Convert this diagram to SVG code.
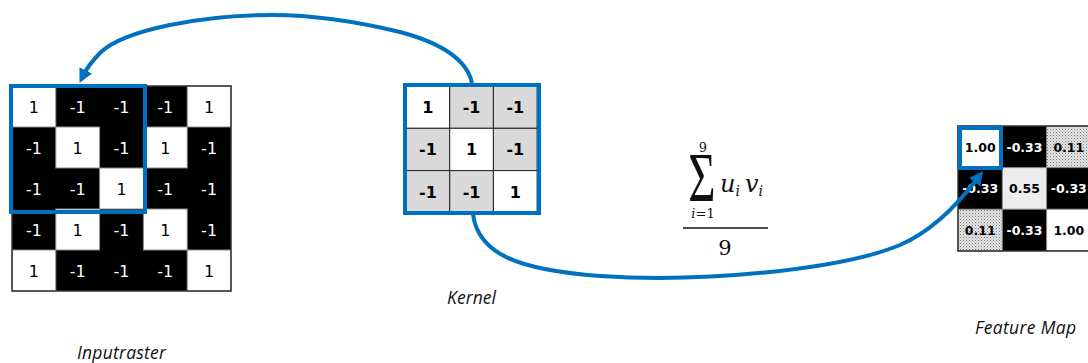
<svg xmlns="http://www.w3.org/2000/svg" width="1088" height="363" viewBox="0 0 1088 363">
  <style>
    .blk { fill: #000; }
    .wht { fill: #fff; stroke: #8c8c8c; stroke-width: 1; }
    .gry { fill: #d9d9d9; stroke: #222; stroke-width: 1; }
    .kw { fill: #fff; stroke: #222; stroke-width: 1; }
    .lgry { fill: #ececec; stroke: #888; stroke-width: 1; }
    .dot { fill: url(#dots); stroke: #888; stroke-width: 1; }
    .frame { fill: none; stroke: #333; stroke-width: 1.5; }
    .sel { fill: none; stroke: #0070c0; stroke-width: 4; }
    .num { font-family: "DejaVu Sans", sans-serif; font-size: 16px; text-anchor: middle; }
    .knum { font-family: "DejaVu Sans", sans-serif; font-size: 16px; font-weight: bold; text-anchor: middle; fill: #000; }
    .fnum { font-family: "DejaVu Sans", sans-serif; font-size: 12.5px; font-weight: bold; text-anchor: middle; }
    .on-b { fill: #fff; }
    .on-w { fill: #000; }
    .lbl { font-family: "Open Sans", sans-serif; font-style: italic; font-size: 17.5px; fill: #111; }
    .math { font-family: "DejaVu Serif", serif; fill: #111; }
    .conn { fill: none; stroke: #0070c0; stroke-width: 4; }
  </style>
  <defs>
    <pattern id="dots" width="3" height="3" patternUnits="userSpaceOnUse">
      <rect width="3" height="3" fill="#e6e6e6"/>
      <rect x="0" y="0" width="1" height="1" fill="#777"/>
      <rect x="1.5" y="1.5" width="1" height="1" fill="#999"/>
    </pattern>
    <marker id="head" markerUnits="userSpaceOnUse" markerWidth="16" markerHeight="16" refX="4" refY="7" orient="auto">
      <path d="M0,0 L14,7 L0,14 z" fill="#0070c0"/>
    </marker>
  </defs>

  <!-- Input raster 5x5 -->
  <g id="inputraster">
    <rect x="12" y="86" width="219" height="205" class="blk"/>
    <rect x="12" y="86" width="43.8" height="41" class="wht"/>
    <rect x="187.2" y="86" width="43.8" height="41" class="wht"/>
    <rect x="55.8" y="127" width="43.8" height="41" class="wht"/>
    <rect x="143.4" y="127" width="43.8" height="41" class="wht"/>
    <rect x="99.6" y="168" width="43.8" height="41" class="wht"/>
    <rect x="55.8" y="209" width="43.8" height="41" class="wht"/>
    <rect x="143.4" y="209" width="43.8" height="41" class="wht"/>
    <rect x="12" y="250" width="43.8" height="41" class="wht"/>
    <rect x="187.2" y="250" width="43.8" height="41" class="wht"/>
    <rect x="12" y="86" width="219" height="205" class="frame"/>
    <g class="num">
      <text x="33.9" y="112.5" class="on-w">1</text>
      <text x="77.7" y="112.5" class="on-b">-1</text>
      <text x="121.5" y="112.5" class="on-b">-1</text>
      <text x="165.3" y="112.5" class="on-b">-1</text>
      <text x="209.1" y="112.5" class="on-w">1</text>

      <text x="33.9" y="153.5" class="on-b">-1</text>
      <text x="77.7" y="153.5" class="on-w">1</text>
      <text x="121.5" y="153.5" class="on-b">-1</text>
      <text x="165.3" y="153.5" class="on-w">1</text>
      <text x="209.1" y="153.5" class="on-b">-1</text>

      <text x="33.9" y="194.5" class="on-b">-1</text>
      <text x="77.7" y="194.5" class="on-b">-1</text>
      <text x="121.5" y="194.5" class="on-w">1</text>
      <text x="165.3" y="194.5" class="on-b">-1</text>
      <text x="209.1" y="194.5" class="on-b">-1</text>

      <text x="33.9" y="235.5" class="on-b">-1</text>
      <text x="77.7" y="235.5" class="on-w">1</text>
      <text x="121.5" y="235.5" class="on-b">-1</text>
      <text x="165.3" y="235.5" class="on-w">1</text>
      <text x="209.1" y="235.5" class="on-b">-1</text>

      <text x="33.9" y="276.5" class="on-w">1</text>
      <text x="77.7" y="276.5" class="on-b">-1</text>
      <text x="121.5" y="276.5" class="on-b">-1</text>
      <text x="165.3" y="276.5" class="on-b">-1</text>
      <text x="209.1" y="276.5" class="on-w">1</text>
    </g>
    <rect x="11" y="86" width="134" height="126" class="sel"/>
    <text x="77" y="359" class="lbl" textLength="89">Inputraster</text>
  </g>

  <!-- Kernel 3x3 -->
  <g id="kernel">
    <rect x="406" y="86" width="43.7" height="42.3" class="kw"/>
    <rect x="449.7" y="86" width="43.7" height="42.3" class="gry"/>
    <rect x="493.4" y="86" width="43.7" height="42.3" class="gry"/>
    <rect x="406" y="128.3" width="43.7" height="42.3" class="gry"/>
    <rect x="449.7" y="128.3" width="43.7" height="42.3" class="kw"/>
    <rect x="493.4" y="128.3" width="43.7" height="42.3" class="gry"/>
    <rect x="406" y="170.6" width="43.7" height="42.3" class="gry"/>
    <rect x="449.7" y="170.6" width="43.7" height="42.3" class="gry"/>
    <rect x="493.4" y="170.6" width="43.7" height="42.3" class="kw"/>
    <g class="knum">
      <text x="427.9" y="113">1</text>
      <text x="471.6" y="113">-1</text>
      <text x="515.3" y="113">-1</text>
      <text x="427.9" y="155.3">-1</text>
      <text x="471.6" y="155.3">1</text>
      <text x="515.3" y="155.3">-1</text>
      <text x="427.9" y="197.6">-1</text>
      <text x="471.6" y="197.6">-1</text>
      <text x="515.3" y="197.6">1</text>
    </g>
    <rect x="405" y="85" width="134" height="128" class="sel"/>
    <text x="447" y="304" class="lbl" textLength="49">Kernel</text>
  </g>

  <!-- Formula: sum of u_i v_i over i = 1..9, divided by 9 -->
  <g id="formula">
    <text transform="translate(702,201) scale(0.68,1)" font-family="Liberation Serif, serif" font-size="69" fill="#111" text-anchor="middle">Σ</text>
    <text x="703" y="152" class="math" font-size="13" text-anchor="middle">9</text>
    <text x="703" y="218" class="math" font-size="13" text-anchor="middle"><tspan font-style="italic">i</tspan>=1</text>
    <text x="720" y="192" class="math" font-size="24" font-style="italic">u<tspan font-size="14" dy="4">i</tspan><tspan dy="-4" dx="5">v</tspan><tspan font-size="14" dy="4">i</tspan></text>
    <line x1="683" y1="228" x2="768" y2="228" stroke="#111" stroke-width="1.5"/>
    <text x="725" y="255" class="math" font-size="21" text-anchor="middle">9</text>
  </g>

  <!-- Feature map 3x3 -->
  <g id="featuremap">
    <rect x="958" y="126" width="140" height="125" class="blk"/>
    <rect x="958" y="126" width="44.3" height="41.6" class="wht"/>
    <rect x="1046.6" y="126" width="44.3" height="41.6" class="dot"/>
    <rect x="1002.3" y="167.6" width="44.3" height="41.6" class="lgry"/>
    <rect x="958" y="209.2" width="44.3" height="41.6" class="dot"/>
    <rect x="1046.6" y="209.2" width="44.3" height="41.6" class="wht"/>
    <rect x="958" y="126" width="140" height="125" class="frame"/>
    <g class="fnum">
      <text x="980.2" y="151.5" class="on-w">1.00</text>
      <text x="1024.5" y="151.5" class="on-b">-0.33</text>
      <text x="1068.8" y="151.5" class="on-w">0.11</text>
      <text x="980.2" y="193" class="on-b">-0.33</text>
      <text x="1024.5" y="193" class="on-w">0.55</text>
      <text x="1068.8" y="193" class="on-b">-0.33</text>
      <text x="980.2" y="234.5" class="on-w">0.11</text>
      <text x="1024.5" y="234.5" class="on-b">-0.33</text>
      <text x="1068.8" y="234.5" class="on-w">1.00</text>
    </g>
    <rect x="960" y="128" width="41" height="40" class="sel"/>
    <text x="975" y="334" class="lbl" textLength="101">Feature Map</text>
  </g>

  <!-- Connectors -->
  <g id="connectors">
    <path class="conn" d="M472,83 C466,55 430,40 400,32 C350,20 310,15 273,15 C200,15 125,30 101,52 C94,59 88,66 84,74" marker-end="url(#head)"/>
    <path class="conn" d="M473,214 C478,255 520,270 600,276 C700,283 840,270 900,245 C930,232 955,208 977,179" marker-end="url(#head)"/>
  </g>
</svg>
